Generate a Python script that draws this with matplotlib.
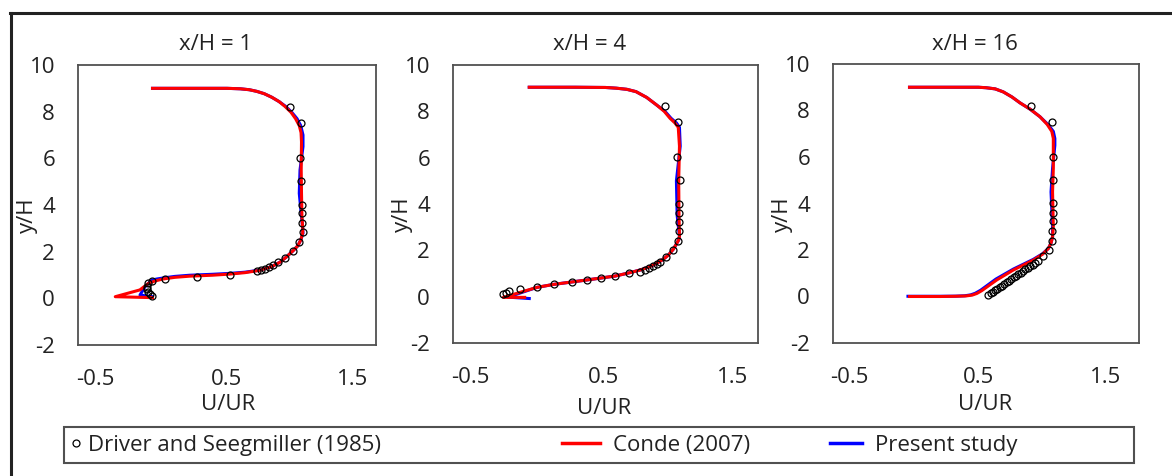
import numpy as np
import matplotlib
matplotlib.use('Agg')
import matplotlib.pyplot as plt
from matplotlib.lines import Line2D
from matplotlib.patches import Rectangle

plt.rcParams['font.family'] = ['Open Sans', 'DejaVu Sans']
plt.rcParams['axes.unicode_minus'] = False

titles = ['x/H = 1', 'x/H = 4', 'x/H = 16']

# ---- x/H = 1
exp1_u = [0.923, 0.999, 0.992, 0.997, 1.003, 1.003, 1.0, 1.012, 0.986, 0.94, 0.891, 0.843,
          0.81, 0.784, 0.755, 0.73, 0.704, 0.52, 0.297, 0.082, -0.005, -0.028, -0.035,
          -0.035, -0.028, -0.017, -0.001]
exp1_y = [8.21, 7.53, 6.0, 5.03, 4.0, 3.64, 3.21, 2.83, 2.4, 2.04, 1.71, 1.54,
          1.43, 1.36, 1.26, 1.21, 1.16, 1.0, 0.93, 0.84, 0.76, 0.64, 0.5,
          0.39, 0.27, 0.17, 0.11]
conde1_u = [0.0, 0.3, 0.5, 0.59, 0.65, 0.70, 0.75, 0.80, 0.85, 0.89, 0.93, 0.96, 0.985,
            0.997, 1.0, 0.998, 1.0, 1.003, 1.008, 1.008, 0.995, 0.975, 0.945, 0.9, 0.856,
            0.8, 0.72, 0.62, 0.52, 0.4, 0.25, 0.15, 0.072, 0.02, -0.028, -0.085, -0.25, 0.0]
conde1_y = [9.0, 9.0, 9.0, 8.98, 8.94, 8.87, 8.77, 8.62, 8.43, 8.22, 7.97, 7.7, 7.4,
            7.1, 6.7, 5.5, 4.5, 3.5, 3.0, 2.79, 2.5, 2.25, 2.05, 1.78, 1.55,
            1.36, 1.2, 1.1, 1.04, 0.99, 0.95, 0.9, 0.83, 0.75, 0.64, 0.36, 0.07, 0.03]
pres1_u = [0.0, 0.3, 0.5, 0.59, 0.65, 0.70, 0.75, 0.80, 0.85, 0.895, 0.935, 0.97, 0.995,
           1.01, 1.01, 0.99, 0.985, 1.0, 1.008, 1.01, 0.995, 0.975, 0.945, 0.9, 0.856,
           0.8, 0.72, 0.62, 0.52, 0.4, 0.25, 0.15, 0.08, 0.03, -0.005, -0.05, -0.084, 0.0]
pres1_y = [9.0, 9.0, 9.0, 8.98, 8.94, 8.87, 8.77, 8.62, 8.43, 8.22, 7.97, 7.7, 7.4,
           7.0, 6.5, 5.5, 4.5, 3.5, 3.0, 2.79, 2.5, 2.25, 2.05, 1.78, 1.55,
           1.36, 1.21, 1.12, 1.07, 1.03, 0.99, 0.94, 0.88, 0.83, 0.78, 0.5, 0.14, 0.07]

# ---- x/H = 4
exp2_u = [0.893, 0.977, 0.97, 0.986, 0.98, 0.98, 0.98, 0.98, 0.975, 0.945, 0.897, 0.857,
          0.836, 0.811, 0.783, 0.757, 0.727, 0.657, 0.565, 0.47, 0.377, 0.28, 0.162,
          0.049, -0.06, -0.135, -0.15, -0.17]
exp2_y = [8.25, 7.55, 6.04, 5.04, 4.0, 3.63, 3.21, 2.84, 2.4, 2.02, 1.7, 1.48,
          1.41, 1.32, 1.22, 1.15, 1.08, 1.01, 0.89, 0.81, 0.72, 0.62, 0.53,
          0.4, 0.32, 0.23, 0.17, 0.12]
conde2_u = [0.0, 0.3, 0.5, 0.57, 0.64, 0.70, 0.77, 0.836, 0.885, 0.923, 0.955, 0.977, 0.985,
            0.98, 0.982, 0.985, 0.98, 0.967, 0.945, 0.913, 0.876, 0.836, 0.785, 0.727,
            0.65, 0.563, 0.377, 0.16, 0.05, -0.17, -0.03]
conde2_y = [9.04, 9.04, 9.03, 9.0, 8.95, 8.85, 8.6, 8.27, 8.0, 7.7, 7.5, 7.31, 6.5,
            5.0, 3.5, 2.6, 2.45, 2.3, 2.05, 1.8, 1.6, 1.44, 1.28, 1.15,
            1.02, 0.89, 0.72, 0.53, 0.4, -0.03, -0.03]
pres2_u = [0.0, 0.3, 0.5, 0.57, 0.64, 0.70, 0.77, 0.836, 0.89, 0.93, 0.965, 0.985, 0.99,
           0.965, 0.97, 0.985, 0.98, 0.967, 0.945, 0.913, 0.876, 0.836, 0.785, 0.727,
           0.65, 0.563, 0.377, 0.16, 0.05, -0.14, 0.0]
pres2_y = [9.04, 9.04, 9.03, 9.0, 8.95, 8.85, 8.6, 8.27, 8.0, 7.7, 7.5, 7.31, 6.5,
           5.0, 3.5, 2.6, 2.45, 2.3, 2.05, 1.8, 1.6, 1.44, 1.28, 1.15,
           1.02, 0.89, 0.72, 0.53, 0.4, -0.02, -0.08]

# ---- x/H = 16
exp3_u = [0.792, 0.931, 0.94, 0.94, 0.94, 0.94, 0.94, 0.931, 0.931, 0.914, 0.875, 0.842,
          0.82, 0.806, 0.788, 0.772, 0.757, 0.741, 0.727, 0.71, 0.696, 0.68, 0.664,
          0.651, 0.634, 0.62, 0.604, 0.59, 0.575, 0.561, 0.545, 0.53, 0.515]
exp3_y = [8.21, 7.5, 6.0, 5.01, 4.03, 3.6, 3.25, 2.82, 2.4, 2.0, 1.74, 1.54,
          1.43, 1.37, 1.3, 1.24, 1.17, 1.1, 1.03, 0.96, 0.89, 0.82, 0.75,
          0.68, 0.61, 0.54, 0.47, 0.4, 0.34, 0.27, 0.2, 0.13, 0.06]
conde3_u = [0.0, 0.3, 0.45, 0.5, 0.56, 0.613, 0.67, 0.722, 0.79, 0.853, 0.9, 0.93, 0.94,
            0.94, 0.94, 0.935, 0.94, 0.935, 0.925, 0.908, 0.87, 0.81, 0.679, 0.57,
            0.472, 0.44, 0.41, 0.37, 0.3, 0.2, 0.0]
conde3_y = [9.0, 9.0, 9.0, 8.98, 8.93, 8.8, 8.58, 8.33, 8.05, 7.73, 7.4, 7.1, 6.8,
            6.5, 5.5, 4.5, 3.0, 2.57, 2.3, 2.07, 1.82, 1.57, 1.14, 0.71,
            0.25, 0.13, 0.06, 0.025, 0.01, 0.0, 0.0]
pres3_u = [0.0, 0.3, 0.45, 0.5, 0.56, 0.613, 0.67, 0.722, 0.79, 0.853, 0.905, 0.94, 0.95,
           0.95, 0.935, 0.925, 0.935, 0.935, 0.925, 0.908, 0.87, 0.81, 0.679, 0.565,
           0.465, 0.43, 0.4, 0.36, 0.3, 0.2, -0.01]
pres3_y = [9.0, 9.0, 9.0, 8.98, 8.93, 8.8, 8.58, 8.33, 8.05, 7.73, 7.4, 7.1, 6.8,
           6.5, 5.5, 4.5, 3.0, 2.57, 2.3, 2.07, 1.84, 1.6, 1.18, 0.75,
           0.27, 0.14, 0.07, 0.03, 0.015, 0.01, 0.01]

exp_u = [exp1_u, exp2_u, exp3_u]
exp_y = [exp1_y, exp2_y, exp3_y]
conde_u = [conde1_u, conde2_u, conde3_u]
conde_y = [conde1_y, conde2_y, conde3_y]
pres_u = [pres1_u, pres2_u, pres3_u]
pres_y = [pres1_y, pres2_y, pres3_y]

xtick_pos = [[-0.386, 0.5, 1.346], [-0.389, 0.484, 1.336], [-0.395, 0.448, 1.284]]
xtick_lab = ['-0.5', '0.5', '1.5']
yticks = [-2, 0, 2, 4, 6, 8, 10]

W, H = 1172, 476
fig = plt.figure(figsize=(W / 100, H / 100), dpi=100)

# axes boxes in pixels: left, right, top, bottom
boxes = [(78, 376, 65, 345), (453, 758, 65, 343), (833, 1139, 64, 343)]
title_x = [0.463, 0.449, 0.464]
xlab_pos = [(0.503, -0.214), (0.495, -0.234), (0.497, -0.222)]
ylab_x = [-0.168, -0.167, -0.166]

fs = 16
for i in range(3):
    l, r, t, b = boxes[i]
    ax = fig.add_axes([l / W, (H - b) / H, (r - l) / W, (b - t) / H])
    ax.plot(pres_u[i], pres_y[i], color='#0000ff', lw=2.2, zorder=2)
    ax.plot(conde_u[i], conde_y[i], color='#ff0000', lw=2.2, zorder=3)
    ax.plot(exp_u[i], exp_y[i], 'o', mfc='none', mec='black', ms=5, mew=0.9, zorder=4)
    ax.set_xlim(-0.5, 1.5)
    ax.set_ylim(-2, 10)
    ax.set_xticks(xtick_pos[i])
    ax.set_xticklabels(xtick_lab)
    ax.set_yticks(yticks)
    ax.tick_params(length=0, labelsize=fs, colors='#222222')
    ax.tick_params(axis='x', pad=17)
    ax.tick_params(axis='y', pad=16.5)
    for s in ax.spines.values():
        s.set_color('#505050')
        s.set_linewidth(1.3)
    ax.text(title_x[i], 1.0 + 20 / (b - t), titles[i], transform=ax.transAxes,
            ha='center', va='center', fontsize=fs, color='#222222')
    ax.text(xlab_pos[i][0], xlab_pos[i][1], 'U/UR', transform=ax.transAxes,
            ha='center', va='center', fontsize=fs, color='#222222')
    ax.text(ylab_x[i], 0.462, 'y/H', transform=ax.transAxes, rotation=90,
            ha='center', va='center', fontsize=fs, color='#222222')

# legend frame
fig.patches.append(Rectangle((64 / W, (H - 463) / H), (1134 - 64) / W, 36 / H,
                             transform=fig.transFigure, fill=False,
                             edgecolor='#505050', lw=1.5))
ly = (H - 445) / H
h_exp = Line2D([], [], ls='none', marker='o', mfc='none', mec='black', ms=5, mew=0.9)
h_con = Line2D([], [], color='#ff0000', lw=2.5)
h_pre = Line2D([], [], color='#0000ff', lw=2.5)
leg_kw = dict(loc='center left', frameon=False, fontsize=fs, borderaxespad=0,
              borderpad=0, labelcolor='#222222')
fig.legend([h_exp], ['Driver and Seegmiller (1985)'], bbox_to_anchor=(70 / W, ly),
           handlelength=0.5, handletextpad=0.3, **leg_kw)
fig.legend([h_con], ['Conde (2007)'], bbox_to_anchor=(562 / W, ly),
           handlelength=1.71, handletextpad=0.6, **leg_kw)
fig.legend([h_pre], ['Present study'], bbox_to_anchor=(830 / W, ly),
           handlelength=1.44, handletextpad=0.6, **leg_kw)

# outer frame (top and left edges only)
fig.lines.append(Line2D([10 / W, 1.0], [(H - 13) / H, (H - 13) / H],
                        transform=fig.transFigure, color='#222222', lw=2.2))
fig.lines.append(Line2D([11 / W, 11 / W], [0, (H - 13) / H],
                        transform=fig.transFigure, color='#222222', lw=2.2))

fig.savefig('out.png', dpi=100)
